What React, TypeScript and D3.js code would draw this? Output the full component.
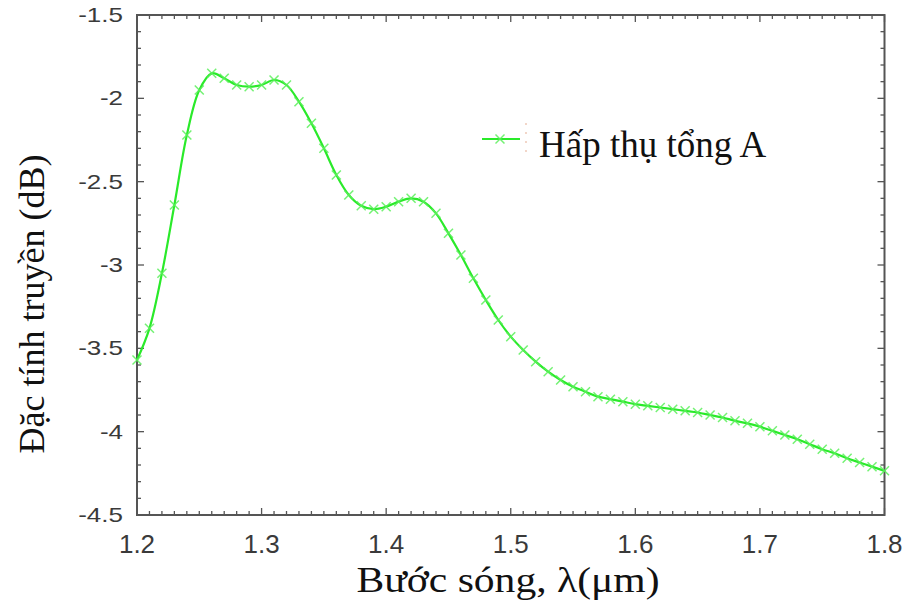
import React from "react";
import * as d3 from "d3";

// Wavelength samples (µm) and total absorption response (dB)
const wavelengths = [
  1.2, 1.21, 1.22, 1.23, 1.24, 1.25, 1.26, 1.27, 1.28, 1.29,
  1.3, 1.31, 1.32, 1.33, 1.34, 1.35, 1.36, 1.37, 1.38, 1.39,
  1.4, 1.41, 1.42, 1.43, 1.44, 1.45, 1.46, 1.47, 1.48, 1.49,
  1.5, 1.51, 1.52, 1.53, 1.54, 1.55, 1.56, 1.57, 1.58, 1.59,
  1.6, 1.61, 1.62, 1.63, 1.64, 1.65, 1.66, 1.67, 1.68, 1.69,
  1.7, 1.71, 1.72, 1.73, 1.74, 1.75, 1.76, 1.77, 1.78, 1.79, 1.8,
];
const absorptionA = [
  -3.57, -3.38, -3.05, -2.64, -2.22, -1.95, -1.85, -1.88, -1.92, -1.93,
  -1.92, -1.89, -1.92, -2.02, -2.15, -2.3, -2.46, -2.58, -2.645, -2.665,
  -2.65, -2.62, -2.6, -2.62, -2.69, -2.81, -2.94, -3.08, -3.21, -3.33,
  -3.43, -3.51, -3.58, -3.64, -3.69, -3.73, -3.76, -3.79, -3.805, -3.82,
  -3.835, -3.845, -3.855, -3.865, -3.875, -3.885, -3.9, -3.915, -3.935, -3.95,
  -3.97, -3.995, -4.02, -4.045, -4.075, -4.105, -4.13, -4.16, -4.185, -4.21, -4.235,
];

const xTicks = [1.2, 1.3, 1.4, 1.5, 1.6, 1.7, 1.8];
const yTicks = [-1.5, -2, -2.5, -3, -3.5, -4, -4.5];
const xTickLabels = ["1.2", "1.3", "1.4", "1.5", "1.6", "1.7", "1.8"];
const yTickLabels = ["-1.5", "-2", "-2.5", "-3", "-3.5", "-4", "-4.5"];
const seriesName = "Hấp thụ tổng A";
const xTitle = "Bước sóng, λ(μm)";
const yTitle = "Đặc tính truyền (dB)";

const W = 904;
const H = 609;
const plot = { left: 137, right: 884.5, top: 15, bottom: 515 };

const lineColor = "#2aea2a";
const markerColor = "#5cf05c";
const axisColor = "#555";
const serif = "'Liberation Serif', 'Times New Roman', serif";

export default function App() {
  const x = d3.scaleLinear().domain([1.2, 1.8]).range([plot.left, plot.right]);
  const y = d3.scaleLinear().domain([-4.5, -1.5]).range([plot.bottom, plot.top]);

  const data = wavelengths.map((w, i) => ({ w, v: absorptionA[i] }));
  const line = d3
    .line<{ w: number; v: number }>()
    .x((d) => x(d.w))
    .y((d) => y(d.v))
    .curve(d3.curveCatmullRom.alpha(0.5));

  const xMinor = d3.range(0, 61).map((i) => 1.2 + i * 0.01);
  const yMinor = d3.range(0, 31).map((i) => -4.5 + i * 0.1);

  const majorLen = 7;
  const minorLen = 4;

  const cross = (cx: number, cy: number, s: number, key: string | number) => (
    <g key={key} stroke={markerColor} strokeWidth={1.5} opacity={0.85}>
      <line x1={cx - s} y1={cy - s} x2={cx + s} y2={cy + s} />
      <line x1={cx - s} y1={cy + s} x2={cx + s} y2={cy - s} />
    </g>
  );

  const isMajorX = (v: number) => xTicks.some((t) => Math.abs(t - v) < 1e-6);
  const isMajorY = (v: number) => yTicks.some((t) => Math.abs(t - v) < 1e-6);

  return (
    <svg
      width={W}
      height={H}
      style={{ position: "absolute", left: 0, top: 0, background: "#fff" }}
    >
      <rect x={0} y={0} width={W} height={H} fill="#fff" />

      {/* tick marks on all four sides, pointing inward */}
      <g stroke={axisColor} strokeWidth={1.3}>
        {xMinor.map((v, i) => {
          const len = isMajorX(v) ? majorLen : minorLen;
          const px = x(v);
          return (
            <g key={"xt" + i}>
              <line x1={px} x2={px} y1={plot.bottom} y2={plot.bottom - len} />
              <line x1={px} x2={px} y1={plot.top} y2={plot.top + len} />
            </g>
          );
        })}
        {yMinor.map((v, i) => {
          const len = isMajorY(v) ? majorLen : minorLen;
          const py = y(v);
          return (
            <g key={"yt" + i}>
              <line x1={plot.left} x2={plot.left + len} y1={py} y2={py} />
              <line x1={plot.right} x2={plot.right - len} y1={py} y2={py} />
            </g>
          );
        })}
      </g>

      {/* plot frame */}
      <rect
        x={plot.left}
        y={plot.top}
        width={plot.right - plot.left}
        height={plot.bottom - plot.top}
        fill="none"
        stroke={axisColor}
        strokeWidth={2}
      />

      {/* tick labels */}
      <g fill="#3a3a3a" fontFamily="'Liberation Sans', Arial, sans-serif">
        {xTicks.map((t, i) => (
          <text key={"xl" + t} x={x(t)} y={553} fontSize={26} textAnchor="middle">
            {xTickLabels[i]}
          </text>
        ))}
        {yTicks.map((t, i) => (
          <text
            key={"yl" + t}
            transform={`translate(123,${y(t) + 7}) scale(1.3,1)`}
            fontSize={20}
            textAnchor="end"
          >
            {yTickLabels[i]}
          </text>
        ))}
      </g>

      {/* series */}
      <path d={line(data) ?? ""} fill="none" stroke={lineColor} strokeWidth={2.2} />
      {data.map((d, i) => cross(x(d.w), y(d.v), 4.5, "m" + i))}

      {/* legend */}
      <line x1={482} x2={520} y1={139} y2={139} stroke={lineColor} strokeWidth={2.2} />
      {cross(500, 139, 4.5, "legend-marker")}
      <line
        x1={526}
        x2={526}
        y1={123}
        y2={154}
        stroke="#e2a080"
        strokeWidth={1.2}
        strokeDasharray="2 7"
        opacity={0.7}
      />
      <text x={539} y={157} fontSize={37} fontFamily={serif} fill="#111">
        {seriesName}
      </text>

      {/* axis titles */}
      <text
        x={508}
        y={592}
        fontSize={35}
        textAnchor="middle"
        textLength={303}
        lengthAdjust="spacingAndGlyphs"
        fontFamily={serif}
        fill="#111"
      >
        {xTitle}
      </text>
      <text
        transform={`translate(44,304) rotate(-90)`}
        fontSize={36}
        textAnchor="middle"
        fontFamily={serif}
        fill="#111"
      >
        {yTitle}
      </text>
    </svg>
  );
}
